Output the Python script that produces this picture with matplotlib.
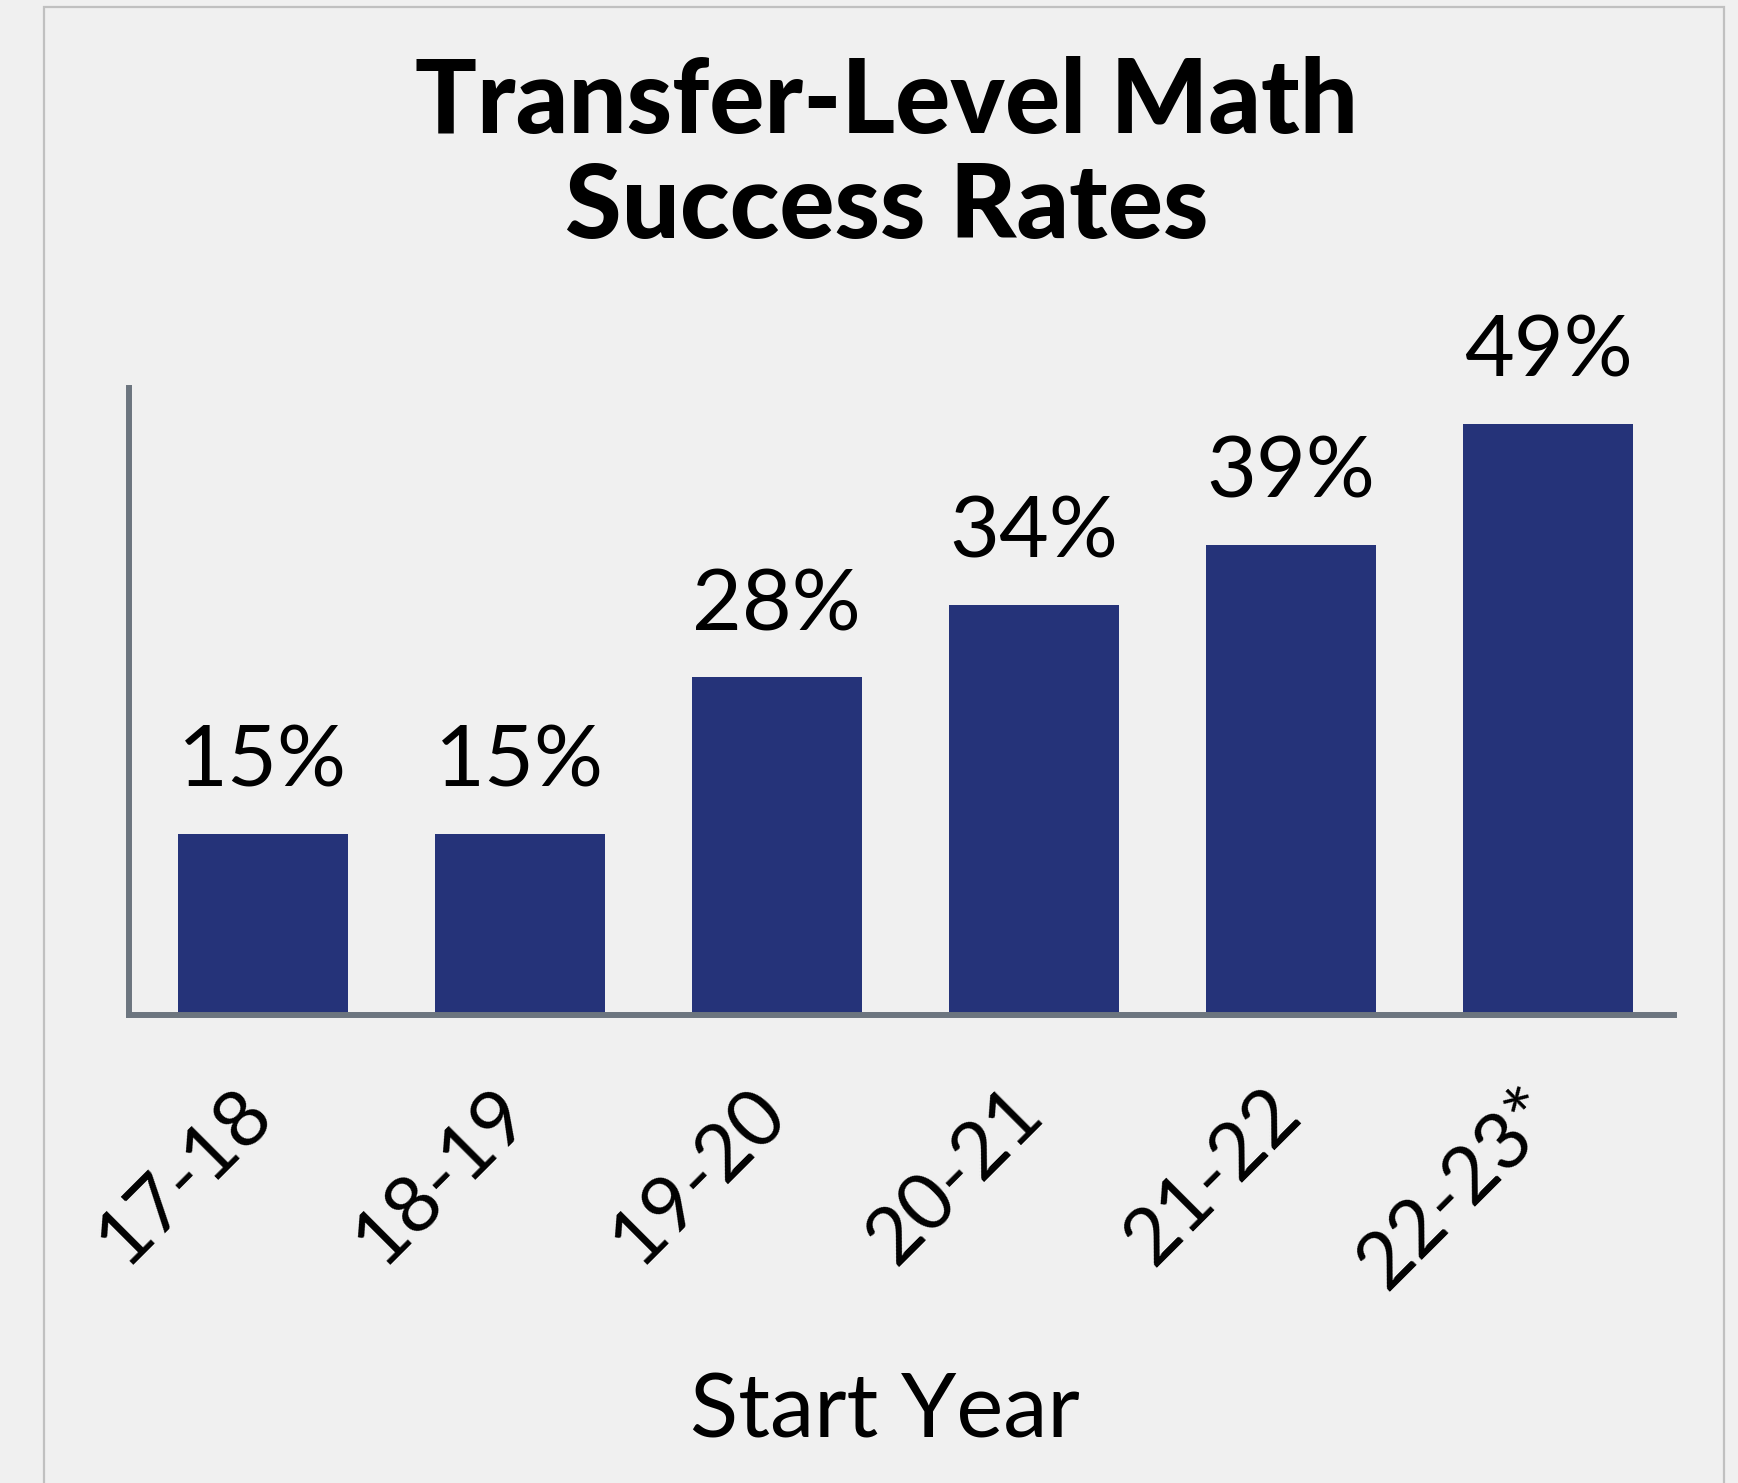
import matplotlib
matplotlib.use("Agg")
import matplotlib.pyplot as plt
from matplotlib.patches import Rectangle
from matplotlib.transforms import ScaledTranslation

categories = ["17-18", "18-19", "19-20", "20-21", "21-22", "22-23*"]
rates = [15, 15, 28, 34, 39, 49]
title_lines = ["Transfer-Level Math", "Success Rates"]
x_label = "Start Year"

BG = "#f0f0f0"
BAR = "#253379"
AXC = "#6c757f"
FONT = ["Lato", "DejaVu Sans"]

W, H = 1738, 1483
fig = plt.figure(figsize=(W / 100, H / 100), dpi=100, facecolor=BG)

# outer frame
fig.patches.append(Rectangle((44 / W, -0.05), (1724 - 44) / W, 1.05 - 7 / H,
                             transform=fig.transFigure, fill=False,
                             edgecolor="#c0c0c0", linewidth=1.6))

ax = fig.add_axes([129 / W, (H - 1015) / H, (1674 - 129) / W, (1015 - 388) / H])
ax.set_facecolor(BG)
x = list(range(len(categories)))
ax.bar(x, rates, width=0.66, color=BAR, zorder=2)
ax.set_xlim(-0.52, 5.49)
ax.set_ylim(0, 52)

for s in ["top", "right"]:
    ax.spines[s].set_visible(False)
for s in ["left", "bottom"]:
    ax.spines[s].set_color(AXC)
    ax.spines[s].set_linewidth(4.3)
    ax.spines[s].set_zorder(3)

ax.set_yticks([])
ax.set_xticks(x)
ax.set_xticklabels(categories, rotation=45, ha="right", rotation_mode="anchor",
                   fontsize=57, family=FONT)
ax.tick_params(axis="x", length=0, pad=42)
shift = ScaledTranslation(-0.28, -0.03, fig.dpi_scale_trans)
for lab in ax.get_xticklabels():
    lab.set_transform(lab.get_transform() + shift)

for xi, v in zip(x, rates):
    ax.annotate(f"{v}%", (xi, v), xytext=(0, 34), textcoords="offset points",
                ha="center", va="baseline", fontsize=62, family=FONT, color="black")

fig.text(887 / W, 1 - 133 / H, title_lines[0], ha="center", va="baseline",
         fontsize=74, fontweight="black", family=FONT)
fig.text(887 / W, 1 - 238 / H, title_lines[1], ha="center", va="baseline",
         fontsize=74, fontweight="black", family=FONT)
fig.text(885 / W, 1 - 1438 / H, x_label, ha="center", va="baseline",
         fontsize=64, family=FONT)

fig.savefig("out.png", dpi=100, facecolor=BG)
